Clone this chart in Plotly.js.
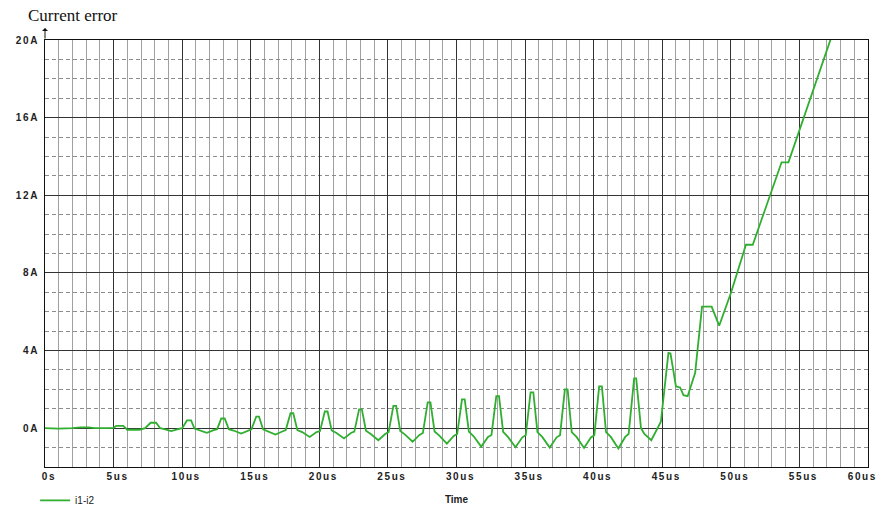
<!DOCTYPE html>
<html>
<head>
<meta charset="utf-8">
<script src="https://cdn.plot.ly/plotly-3.0.1.min.js"></script>
<style>
  html, body { margin: 0; padding: 0; background: #fff; }
  #chart { width: 877px; height: 510px; }
  #chart .xtick text, #chart .ytick text, #chart .annotation-text { letter-spacing: 1.6px; }
</style>
</head>
<body>
<div id="chart"></div>
<script>
// Time in microseconds
const timeUs = [
  0.0, 1.0, 2.0, 2.6, 3.2, 3.6, 4.5, 5.0, 5.2, 5.7, 6.0, 6.9, 7.3,
  7.7, 8.1, 8.4, 8.7, 9.2, 9.7, 10.0,
  10.35, 10.65, 10.9, 11.25, 11.8, 12.3, 12.55,
  12.85, 13.1, 13.4, 13.75, 14.3, 14.8, 15.05,
  15.4, 15.6, 15.9, 16.25, 16.8, 17.3, 17.55,
  17.9, 18.1, 18.4, 18.75, 19.3, 19.8, 20.05,
  20.4, 20.6, 20.9, 21.25, 21.8, 22.3, 22.55,
  22.9, 23.1, 23.4, 23.75, 24.3, 24.8, 25.05,
  25.4, 25.6, 25.9, 26.25, 26.8, 27.3, 27.55,
  27.9, 28.1, 28.4, 28.75, 29.3, 29.8, 30.05,
  30.4, 30.6, 30.9, 31.25, 31.8, 32.3, 32.55,
  32.9, 33.1, 33.4, 33.75, 34.3, 34.8, 35.05,
  35.4, 35.6, 35.9, 36.25, 36.8, 37.3, 37.55,
  37.9, 38.1, 38.4, 38.75, 39.3, 39.8, 40.05,
  40.4, 40.6, 40.9, 41.25, 41.8, 42.3, 42.55,
  42.95, 43.1, 43.45, 43.7, 44.2, 44.6, 44.9,
  45.45, 45.6, 46.0, 46.3, 46.55, 46.85, 47.4,
  47.9, 48.6, 49.15, 50.0, 51.1, 51.6, 53.7, 54.2, 57.25, 57.5
];
// Current error i1-i2 in amperes
const currentErrorA = [
  0.0, -0.02, 0.0, 0.04, 0.04, 0.0, 0.0, 0.02, 0.12, 0.12, -0.08, -0.08, 0.0,
  0.28, 0.28, 0.0, -0.05, -0.15, -0.05, 0.0,
  0.4, 0.4, -0.02, -0.1, -0.24, -0.1, -0.05,
  0.5, 0.5, -0.05, -0.12, -0.28, -0.13, -0.06,
  0.6, 0.6, -0.06, -0.15, -0.33, -0.17, -0.1,
  0.77, 0.77, -0.1, -0.2, -0.45, -0.2, -0.15,
  0.86, 0.86, -0.12, -0.25, -0.53, -0.25, -0.18,
  0.97, 0.97, -0.13, -0.3, -0.62, -0.3, -0.2,
  1.15, 1.15, -0.15, -0.33, -0.7, -0.35, -0.25,
  1.33, 1.33, -0.17, -0.38, -0.8, -0.4, -0.3,
  1.48, 1.48, -0.18, -0.42, -0.95, -0.45, -0.35,
  1.65, 1.65, -0.19, -0.45, -0.98, -0.47, -0.36,
  1.85, 1.85, -0.2, -0.45, -1.0, -0.47, -0.36,
  2.0, 2.0, -0.2, -0.45, -1.02, -0.48, -0.36,
  2.15, 2.15, -0.2, -0.45, -1.05, -0.45, -0.3,
  2.57, 2.57, 0.0, -0.3, -0.62, -0.1, 0.33,
  3.88, 3.85, 2.15, 2.1, 1.7, 1.65, 2.85,
  6.26, 6.26, 5.28, 6.95, 9.45, 9.45, 13.7, 13.7, 20.0, 20.5
];
const xTickVals = [0, 5, 10, 15, 20, 25, 30, 35, 40, 45, 50, 55, 60];
const xTickText = ["0s", "5us", "10us", "15us", "20us", "25us", "30us", "35us", "40us", "45us", "50us", "55us", "60us"];
const yTickVals = [0, 4, 8, 12, 16, 20];
const yTickText = ["0A", "4A", "8A", "12A", "16A", "20A"];
const seriesName = "i1-i2";

const tickFont = { family: "Liberation Sans, Arial, sans-serif", size: 10, color: "#222", weight: "bold" };

// The last x tick label sits at the right page edge; draw it right-aligned so it stays inside.
const lastIdx = xTickVals.length - 1;
const axisTickText = xTickText.map((t, i) => (i === lastIdx ? "" : t));

const trace = {
  x: timeUs,
  y: currentErrorA,
  type: "scatter",
  mode: "lines",
  name: seriesName,
  line: { color: "#2fae2f", width: 1.8 },
  showlegend: true
};

const layout = {
  width: 877,
  height: 510,
  margin: { l: 45, r: 9, t: 40, b: 43, autoexpand: false },
  paper_bgcolor: "#fff",
  plot_bgcolor: "#fff",
  title: {
    text: "Current error",
    font: { family: "Liberation Serif, Times New Roman, serif", size: 17, color: "#111" },
    xref: "container", yref: "container",
    x: 28 / 877, xanchor: "left",
    y: 1 - 15 / 510, yanchor: "middle"
  },
  xaxis: {
    range: [0, 60],
    tickvals: xTickVals,
    ticktext: axisTickText,
    tickfont: tickFont,
    ticklabelshift: 4,
    ticks: "",
    showgrid: true,
    gridcolor: "#333",
    gridwidth: 1,
    zeroline: false,
    showline: true,
    linecolor: "#111",
    linewidth: 1,
    mirror: true,
    minor: { dtick: 1, tick0: 0, showgrid: true, gridcolor: "#a0a0a0", gridwidth: 1, ticks: "" },
    title: { text: "Time", font: { family: "Liberation Sans, Arial, sans-serif", size: 10, color: "#222", weight: "bold" }, standoff: 14 },
    fixedrange: true
  },
  yaxis: {
    range: [-2, 20],
    tickvals: yTickVals,
    ticktext: yTickText,
    tickfont: tickFont,
    ticks: "",
    ticklabelstandoff: 3,
    showgrid: true,
    gridcolor: "#333",
    gridwidth: 1,
    zeroline: false,
    showline: true,
    linecolor: "#111",
    linewidth: 1,
    mirror: true,
    minor: { dtick: 1, tick0: 0, showgrid: true, gridcolor: "#8c8c8c", gridwidth: 1, griddash: "4px,3px", ticks: "" },
    fixedrange: true
  },
  showlegend: true,
  legend: {
    x: -0.012, xanchor: "left",
    y: -0.078, yanchor: "middle",
    orientation: "h",
    itemwidth: 30,
    font: { family: "Liberation Sans, Arial, sans-serif", size: 10, color: "#222" },
    bgcolor: "rgba(0,0,0,0)"
  },
  annotations: [
    {
      xref: "paper", yref: "paper",
      x: 0, y: 1.028,
      ax: 0, ay: 12,
      axref: "pixel", ayref: "pixel",
      text: "",
      showarrow: true,
      arrowhead: 1,
      arrowsize: 1,
      arrowwidth: 1,
      arrowcolor: "#111"
    },
    {
      xref: "x", yref: "paper",
      x: xTickVals[lastIdx], y: 0,
      xanchor: "right", yanchor: "top",
      xshift: 8, yshift: -2,
      text: xTickText[lastIdx],
      showarrow: false,
      font: tickFont
    }
  ]
};

Plotly.newPlot("chart", [trace], layout, { displayModeBar: false, staticPlot: true });
</script>
</body>
</html>
